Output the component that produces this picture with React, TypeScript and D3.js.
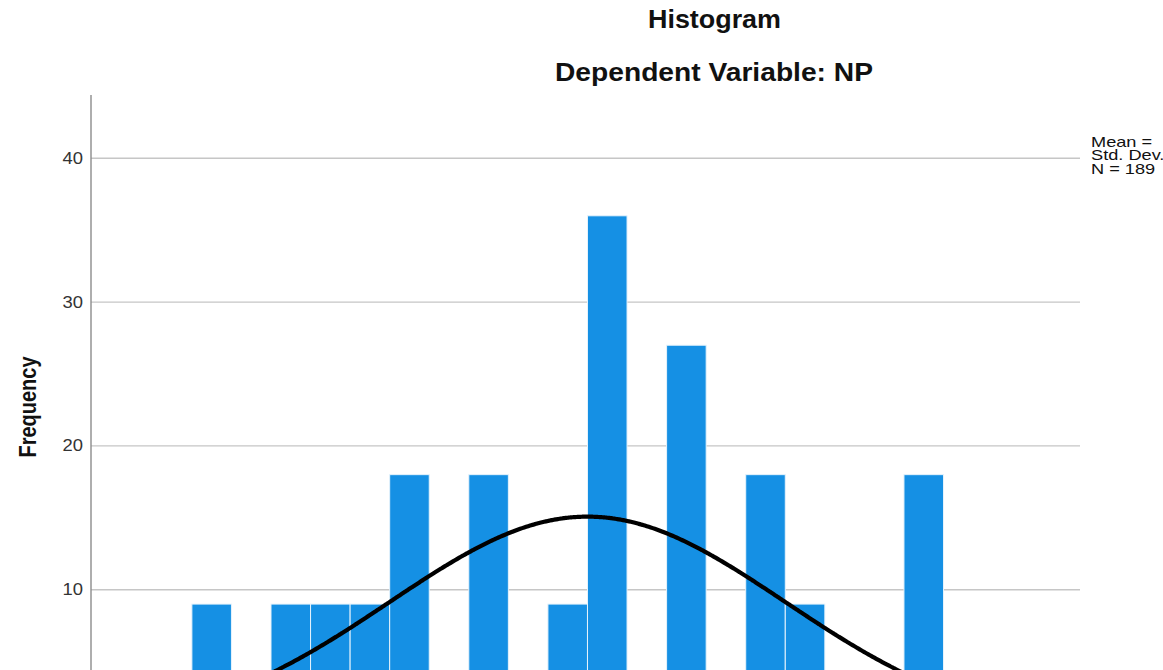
import React from "react";
import * as d3 from "d3";

const binStart = -2.0;
const binWidth = 0.2;
const counts = [9, 0, 9, 9, 9, 18, 0, 18, 0, 9, 36, 0, 27, 0, 18, 9, 0, 0, 18];
const yTicks = [10, 20, 30, 40];
const totalN = 189;
const meanVal = 0;
const sdVal = 1.0;
const legendLines = ["Mean =", "Std. Dev. =", "N = 189"];
const titleLines = ["Histogram", "Dependent Variable: NP"];

const W = 1163;
const H = 670;
const FONT = "'Liberation Sans', Arial, Helvetica, sans-serif";

export default function App() {
  const x = d3.scaleLinear().domain([-2.51, 2.49]).range([91, 1080]);
  const y = d3.scaleLinear().domain([0, 44.4]).range([733.5, 95]);

  const bins = counts.map((c, i) => ({
    x0: binStart + i * binWidth,
    x1: binStart + (i + 1) * binWidth,
    c,
  }));

  const curvePts = d3.range(-2.51, 2.4901, 0.01).map((v) => {
    const z = (v - meanVal) / sdVal;
    const f = (totalN * binWidth) / (sdVal * Math.sqrt(2 * Math.PI)) * Math.exp(-0.5 * z * z);
    return [v, f] as [number, number];
  });
  const line = d3
    .line<[number, number]>()
    .x((d) => x(d[0]))
    .y((d) => y(d[1]))
    .curve(d3.curveBasis);

  const [x0, x1] = x.range();
  const [yb, yt] = y.range();

  return (
    <svg
      width={W}
      height={H}
      style={{ position: "absolute", left: 0, top: 0, display: "block", background: "#fff" }}
      fontFamily={FONT}
    >
      <defs>
        <clipPath id="plot">
          <rect x={x0} y={yt} width={x1 - x0} height={yb - yt} />
        </clipPath>
      </defs>
      <rect x={0} y={0} width={W} height={H} fill="#fff" />

      {/* titles */}
      <text x={714.5} y={28} textAnchor="middle" fontSize={25} fontWeight="bold" fill="#111"
        textLength={133} lengthAdjust="spacingAndGlyphs">{titleLines[0]}</text>
      <text x={714} y={81} textAnchor="middle" fontSize={26} fontWeight="bold" fill="#111"
        textLength={318} lengthAdjust="spacingAndGlyphs">{titleLines[1]}</text>

      {/* gridlines */}
      {yTicks.map((t) => (
        <line key={t} x1={x0} x2={x1} y1={y(t)} y2={y(t)} stroke="#c6c6c6" strokeWidth={1.4} />
      ))}

      {/* bars */}
      <g clipPath="url(#plot)">
        {bins.filter((b) => b.c > 0).map((b, i) => (
          <rect
            key={i}
            x={x(b.x0)}
            y={y(b.c)}
            width={x(b.x1) - x(b.x0)}
            height={y(0) - y(b.c)}
            fill="#1590e4"
            stroke="#e6f3fc"
            strokeWidth={1}
          />
        ))}
        <path d={line(curvePts) || ""} fill="none" stroke="#000" strokeWidth={4.2} />
      </g>

      {/* y axis */}
      <line x1={x0} x2={x0} y1={yt} y2={yb} stroke="#8c8c8c" strokeWidth={1.4} />
      {yTicks.map((t) => (
        <g key={t} transform={`translate(83,${y(t)}) scale(1.15,1)`}>
          <text textAnchor="end" dominantBaseline="central" fontSize={16} fill="#333">{t}</text>
        </g>
      ))}

      <g transform={`translate(36,407) rotate(-90) scale(1,1.15)`}>
        <text textAnchor="middle" fontSize={20} fontWeight="bold" fill="#111">Frequency</text>
      </g>

      {/* legend */}
      {legendLines.map((s, i) => (
        <g key={i} transform={`translate(1091,${147 + i * 13.4}) scale(1.3,1)`}>
          <text fontSize={14} fill="#111">{s}</text>
        </g>
      ))}
    </svg>
  );
}
